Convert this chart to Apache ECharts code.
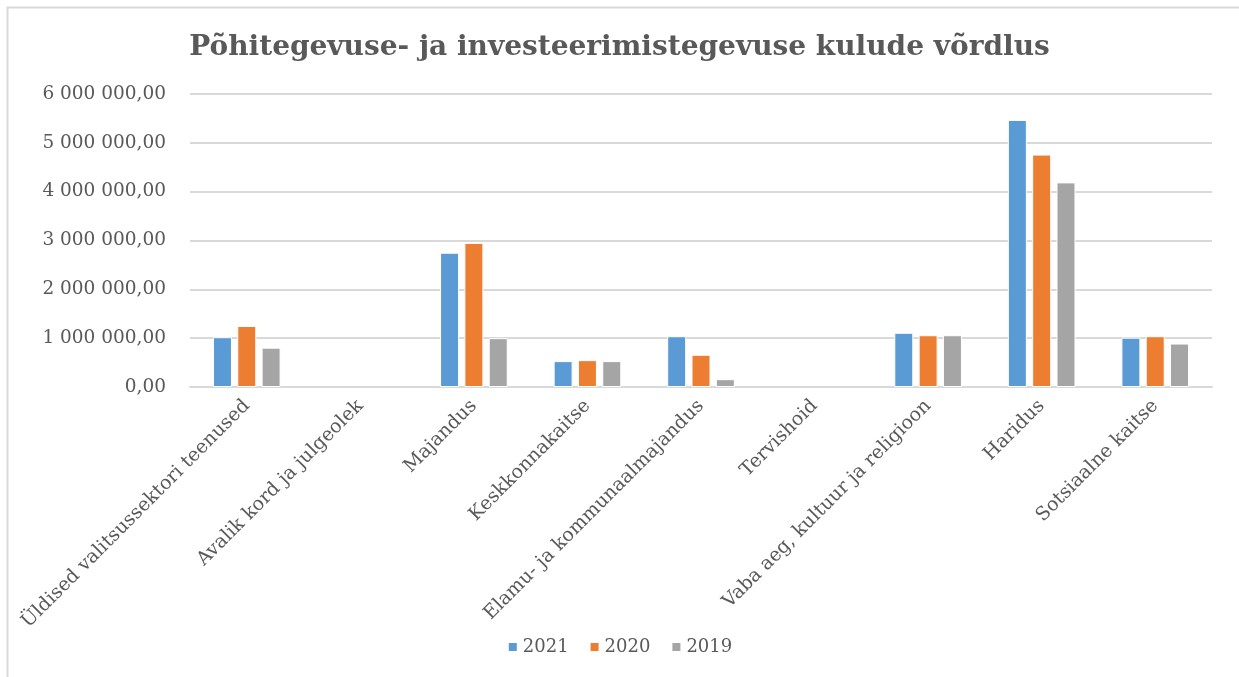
<!DOCTYPE html>
<html>
<head>
<meta charset="utf-8">
<script src="https://cdn.jsdelivr.net/npm/echarts@6/dist/echarts.min.js"></script>
<style>
  html, body { margin: 0; padding: 0; background: #fff; }
  #chart { width: 1239px; height: 677px; }
</style>
</head>
<body>
<div id="chart"></div>
<script>
// andmed
const categories = [
    'Üldised valitsussektori teenused',
    'Avalik kord ja julgeolek',
    'Majandus',
    'Keskkonnakaitse',
    'Elamu- ja kommunaalmajandus',
    'Tervishoid',
    'Vaba aeg, kultuur ja religioon',
    'Haridus',
    'Sotsiaalne kaitse'
];
const years = ['2021', '2020', '2019'];
const values2021 = [1020000, null, 2750000, 530000, 1040000, null, 1110000, 5470000, 1010000];
const values2020 = [1250000, null, 2950000, 550000, 660000, null, 1060000, 4760000, 1040000];
const values2019 = [805000, null, 1000000, 530000, 160000, null, 1060000, 4190000, 890000];
const colors = ['#5B9BD5', '#ED7D31', '#A5A5A5'];

// laiem seriif, et tekst oleks sama lai kui originaalis
const serif = '"DejaVu Serif", "Liberation Serif", serif';

// 6 000 000,00 kuju
function fmt(v) {
    const s = Math.round(v).toString().replace(/\B(?=(\d{3})+(?!\d))/g, ' ');
    return s + ',00';
}

const chart = echarts.init(document.getElementById('chart'));

const seriesData = [values2021, values2020, values2019];

const option = {
    animation: false,
    backgroundColor: '#fff',
    color: colors,
    graphic: [{
        type: 'rect',
        shape: { x: 7.5, y: 7.5, width: 1260, height: 700 },
        style: { fill: 'none', stroke: '#d9d9d9', lineWidth: 2 },
        silent: true
    }],
    title: {
        text: 'Põhitegevuse- ja investeerimistegevuse kulude võrdlus',
        left: 'center',
        top: 29,
        textStyle: {
            fontFamily: serif,
            fontSize: 28,
            fontWeight: 'bold',
            color: '#595959'
        }
    },
    legend: {
        data: years,
        bottom: 16,
        left: 'center',
        itemWidth: 10,
        itemHeight: 10,
        itemGap: 20,
        icon: 'rect',
        textStyle: { fontFamily: serif, fontSize: 18, color: '#595959' }
    },
    grid: { left: 190, right: 27, top: 94, bottom: 290 },
    xAxis: {
        type: 'category',
        data: categories,
        axisLine: { lineStyle: { color: '#d9d9d9', width: 2 } },
        axisTick: { show: false },
        axisLabel: {
            rotate: 45,
            interval: 0,
            margin: 16,
            fontFamily: serif,
            fontSize: 19,
            color: '#595959'
        }
    },
    yAxis: {
        type: 'value',
        min: 0,
        max: 6000000,
        interval: 1000000,
        axisLine: { show: false },
        axisTick: { show: false },
        splitLine: { lineStyle: { color: '#d9d9d9', width: 2 } },
        axisLabel: {
            margin: 24,
            formatter: fmt,
            fontFamily: serif,
            fontSize: 18.5,
            color: '#595959'
        }
    },
    series: years.map((y, i) => ({
        name: y,
        type: 'bar',
        data: seriesData[i],
        barWidth: 19,
        barGap: '28%',
        itemStyle: { color: colors[i], borderColor: '#fff', borderWidth: 1 }
    }))
};

chart.setOption(option);
</script>
</body>
</html>
